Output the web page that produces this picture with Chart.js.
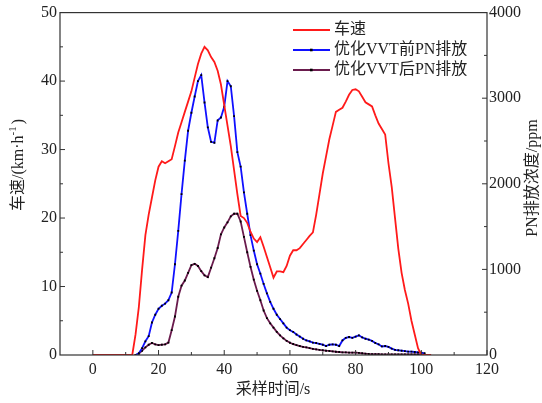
<!DOCTYPE html>
<html>
<head>
<meta charset="utf-8">
<script src="https://cdn.jsdelivr.net/npm/chart.js@4.4.0/dist/chart.umd.min.js"></script>
<style>
  html, body { margin: 0; padding: 0; background: #fff; }
  #wrap { width: 542px; height: 403px; }
</style>
</head>
<body>
<div id="wrap"><canvas id="chart"></canvas></div>
<script>
// 车速曲线 (km/h)
const speedTime = [0, 12, 13, 14, 15, 16, 17, 18, 19, 20, 21, 22, 23, 24, 25, 26, 27, 28, 29, 30,
    31, 32, 33, 34, 35, 36, 37, 38, 39, 40, 41, 42, 43, 44, 45, 46, 47, 48, 49, 50,
    51, 52, 53, 54, 55, 56, 57, 58, 59, 60, 61, 62, 63, 64, 65, 66, 67, 68, 69, 70,
    71, 72, 73, 74, 75, 76, 77, 78, 79, 80, 81, 82, 83, 84, 85, 86, 87, 88, 89, 90,
    91, 92, 93, 94, 95, 96, 97, 98, 99, 100, 103];
const speedValue = [0, 0, 3, 7, 12.5, 17.5, 20.5, 23, 25.5, 27.5, 28.3, 28, 28.3, 28.6, 30.5, 32.5, 34, 35.5, 37, 38.5,
    40.5, 42.5, 44, 45, 44.5, 43.5, 42.8, 41.5, 39.5, 36.5, 33.5, 30.5, 27, 23.5, 20.3, 20, 19.3, 18, 17, 16.5,
    17.2, 15.8, 14.3, 12.8, 11.3, 12.2, 12.2, 12.1, 13, 14.5, 15.3, 15.3, 15.6, 16.2, 16.8, 17.4, 17.9, 20.5, 23.5, 26.5,
    29, 31.5, 33.5, 35.5, 35.8, 36.1, 37, 38, 38.7, 38.8, 38.5, 37.7, 36.9, 36.6, 36.3, 35, 33.8, 33, 32.2, 28,
    24.5, 20, 15.5, 12, 9.5, 7.5, 5, 3, 1, 0, 0];

// PN排放浓度 (ppm), 采样时间 13..101 s
const pnTime = [13, 14, 15, 16, 17, 18, 19, 20, 21, 22, 23, 24, 25, 26, 27, 28, 29, 30, 31, 32,
    33, 34, 35, 36, 37, 38, 39, 40, 41, 42, 43, 44, 45, 46, 47, 48, 49, 50, 51, 52,
    53, 54, 55, 56, 57, 58, 59, 60, 61, 62, 63, 64, 65, 66, 67, 68, 69, 70, 71, 72,
    73, 74, 75, 76, 77, 78, 79, 80, 81, 82, 83, 84, 85, 86, 87, 88, 89, 90, 91, 92,
    93, 94, 95, 96, 97, 98, 99, 100, 101];
const pnBefore = [0, 20, 80, 160, 220, 380, 470, 540, 575, 600,
    640, 730, 1060, 1450, 1880, 2270, 2620, 2830, 3020, 3200,
    3270, 2950, 2660, 2490, 2480, 2740, 2775, 2900, 3200, 3140,
    2790, 2370, 2200, 1900, 1650, 1400, 1220, 1060, 950, 830,
    720, 620, 540, 470, 420, 370, 320, 290, 270, 240,
    215, 190, 170, 160, 145, 140, 130, 120, 105, 120,
    125, 120, 105, 170, 200, 210, 200, 215, 230, 205,
    190, 180, 165, 140, 125, 100, 105, 95, 75, 60,
    55, 50, 45, 40, 40, 35, 30, 28, 20];
const pnAfter = [0, 15, 50, 90, 120, 140, 125, 115, 120, 125,
    145, 290, 450, 680, 810, 870, 960, 1050, 1065, 1040,
    980, 930, 910, 1020, 1130, 1250, 1410, 1490, 1550, 1620,
    1650, 1650, 1560, 1380, 1200, 1030, 880, 750, 640, 520,
    430, 370, 320, 270, 230, 195, 165, 143, 128, 116,
    105, 95, 89, 80, 72, 66, 60, 55, 50, 47,
    43, 38, 35, 31, 30, 28, 27, 27, 25, 20,
    15, 12, 10, 10, 9, 8, 8, 8, 8, 8,
    8, 8, 8, 8, 8, 8, 8, 8, 8];

const xTicks = [0, 20, 40, 60, 80, 100, 120];
const speedTicks = [0, 10, 20, 30, 40, 50];
const pnTicks = [0, 1000, 2000, 3000, 4000];

const seriesNames = ['车速', '优化VVT前PN排放', '优化VVT后PN排放'];
const seriesColors = ['#ff1a1a', '#1010ff', '#6a1b4d'];

const FONT = "'Times New Roman', 'Liberation Serif', 'Noto Sans CJK SC', serif";
const TEXT = '#222';
const AXIS = '#333';

function points(xs, ys) {
    return xs.map((x, i) => ({ x: x, y: ys[i] }));
}

// 边框、内向刻度、图例和坐标轴标题
const framePlugin = {
    id: 'frame',
    afterDraw(chart) {
        const { ctx, chartArea: a, scales } = chart;
        ctx.save();
        ctx.strokeStyle = AXIS;
        ctx.lineWidth = 1.2;
        ctx.strokeRect(a.left, a.top, a.right - a.left, a.bottom - a.top);

        ctx.lineWidth = 1;
        ctx.beginPath();
        for (let v = 0; v <= 120; v += 10) {
            const px = scales.x.getPixelForValue(v);
            const len = v % 20 === 0 ? 5 : 3;
            ctx.moveTo(px, a.bottom);
            ctx.lineTo(px, a.bottom - len);
        }
        for (let v = 5; v < 50; v += 5) {
            const py = scales.y.getPixelForValue(v);
            const len = v % 10 === 0 ? 5 : 3;
            ctx.moveTo(a.left, py);
            ctx.lineTo(a.left + len, py);
        }
        for (let v = 500; v < 4000; v += 500) {
            const py = scales.y1.getPixelForValue(v);
            const len = v % 1000 === 0 ? 5 : 3;
            ctx.moveTo(a.right, py);
            ctx.lineTo(a.right - len, py);
        }
        ctx.stroke();

        // 图例
        ctx.font = '16px ' + FONT;
        ctx.fillStyle = TEXT;
        ctx.textBaseline = 'middle';
        ctx.textAlign = 'left';
        seriesNames.forEach((name, i) => {
            const y = 30 + i * 20;
            ctx.strokeStyle = seriesColors[i];
            ctx.lineWidth = 1.8;
            ctx.beginPath();
            ctx.moveTo(293, y);
            ctx.lineTo(330, y);
            ctx.stroke();
            if (i > 0) {
                ctx.fillStyle = '#000';
                ctx.fillRect(310, y - 1.3, 2.6, 2.6);
            }
            ctx.fillStyle = TEXT;
            ctx.fillText(name, 334, y);
        });

        // 坐标轴标题
        ctx.textAlign = 'center';
        ctx.fillText('采样时间/s', 273, 390);

        ctx.save();
        ctx.translate(533, 178);
        ctx.rotate(-Math.PI / 2);
        ctx.fillText('PN排放浓度/ppm', 0, 0);
        ctx.restore();

        ctx.save();
        ctx.translate(19, 165);
        ctx.rotate(-Math.PI / 2);
        ctx.textAlign = 'left';
        const main = '车速/(km·h';
        const sup = '-1';
        const tail = ')';
        ctx.font = '16px ' + FONT;
        const w1 = ctx.measureText(main).width;
        const w3 = ctx.measureText(tail).width;
        ctx.font = '11px ' + FONT;
        const w2 = ctx.measureText(sup).width;
        let x0 = -(w1 + w2 + w3 + 2) / 2;
        ctx.font = '16px ' + FONT;
        ctx.fillText(main, x0, 0);
        ctx.font = '11px ' + FONT;
        ctx.fillText(sup, x0 + w1, -6);
        ctx.font = '16px ' + FONT;
        ctx.fillText(tail, x0 + w1 + w2 + 2, 0);
        ctx.restore();

        ctx.restore();
    }
};

const tickFont = { family: FONT, size: 16 };

new Chart(document.getElementById('chart'), {
    type: 'line',
    data: {
        datasets: [{
            label: seriesNames[0],
            data: points(speedTime, speedValue),
            yAxisID: 'y',
            borderColor: seriesColors[0],
            borderWidth: 1.8,
            pointRadius: 0
        }, {
            label: seriesNames[1],
            data: points(pnTime, pnBefore),
            yAxisID: 'y1',
            borderColor: seriesColors[1],
            borderWidth: 1.8,
            pointStyle: 'rect',
            pointRadius: 1.3,
            pointBackgroundColor: '#000',
            pointBorderWidth: 0
        }, {
            label: seriesNames[2],
            data: points(pnTime, pnAfter),
            yAxisID: 'y1',
            borderColor: seriesColors[2],
            borderWidth: 1.8,
            pointStyle: 'rect',
            pointRadius: 1.3,
            pointBackgroundColor: '#000',
            pointBorderWidth: 0
        }]
    },
    options: {
        responsive: true,
        maintainAspectRatio: false,
        animation: false,
        layout: { padding: { top: 11, left: 0, right: 0, bottom: 0 } },
        plugins: {
            legend: { display: false },
            tooltip: { enabled: false }
        },
        scales: {
            x: {
                type: 'linear',
                min: -10,
                max: 120,
                afterBuildTicks: scale => { scale.ticks = xTicks.map(v => ({ value: v })); },
                afterFit: scale => { scale.height = 48; },
                grid: { display: false, drawTicks: false },
                border: { display: false },
                ticks: { font: tickFont, color: TEXT, padding: 5, maxRotation: 0, callback: v => String(v) }
            },
            y: {
                position: 'left',
                min: 0,
                max: 50,
                afterBuildTicks: scale => { scale.ticks = speedTicks.map(v => ({ value: v })); },
                afterFit: scale => { scale.width = 60; },
                grid: { display: false, drawTicks: false },
                border: { display: false },
                ticks: { font: tickFont, color: TEXT, padding: 3, callback: v => String(v) }
            },
            y1: {
                position: 'right',
                min: 0,
                max: 4000,
                afterBuildTicks: scale => { scale.ticks = pnTicks.map(v => ({ value: v })); },
                afterFit: scale => { scale.width = 55; },
                grid: { display: false, drawTicks: false },
                border: { display: false },
                ticks: { font: tickFont, color: TEXT, padding: 2, callback: v => String(v) }
            }
        }
    },
    plugins: [framePlugin]
});
</script>
</body>
</html>
